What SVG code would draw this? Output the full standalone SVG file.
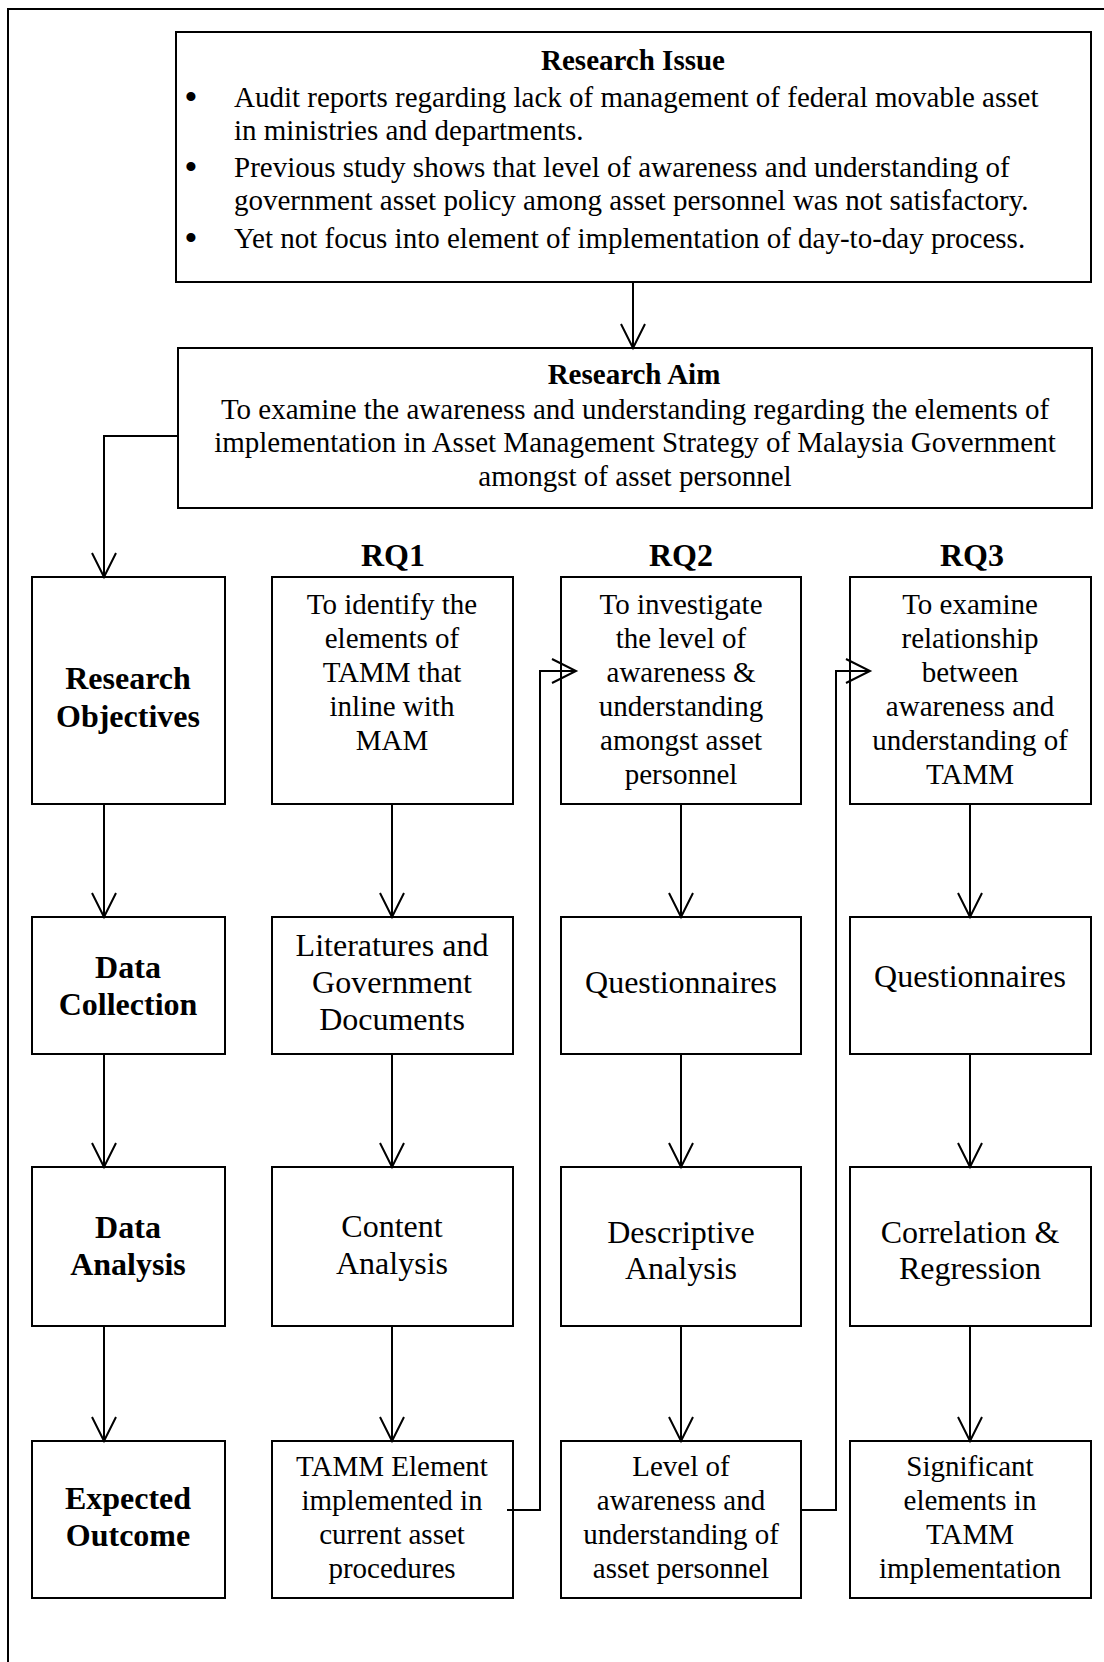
<svg xmlns="http://www.w3.org/2000/svg" width="1104" height="1662" viewBox="0 0 1104 1662">
<style>
.box{fill:#fff;stroke:#000;stroke-width:2}
.frame{fill:none;stroke:#000;stroke-width:2}
.t{font-family:"Liberation Serif","Times New Roman",serif;font-size:29px;fill:#000}
.c{text-anchor:middle}
.b{font-weight:bold;font-size:32px}
.big{font-size:32px}
.bul{font-size:38px}
.conn{fill:none;stroke:#000;stroke-width:2;marker-end:url(#arr)}
</style>
<defs>
<marker id="arr" markerUnits="userSpaceOnUse" viewBox="-26 -13 28 26" refX="0" refY="0" markerWidth="28" markerHeight="26" orient="auto" overflow="visible">
<path d="M-24,-12 L0,0 L-24,12" fill="none" stroke="#000" stroke-width="2"/>
</marker>
</defs>
<rect width="1104" height="1662" fill="#fff"/>
<rect class="frame" x="8" y="9" width="1120" height="1680"/>

<g id="issue">
<rect class="box" x="176" y="32" width="915" height="250"/>
<text class="t c" x="633" y="70" font-weight="bold">Research Issue</text>
<text class="t c bul" x="191" y="110">•</text>
<text class="t" x="234" y="107">Audit reports regarding lack of management of federal movable asset</text>
<text class="t" x="234" y="140">in ministries and departments.</text>
<text class="t c bul" x="191" y="180">•</text>
<text class="t" x="234" y="177">Previous study shows that level of awareness and understanding of</text>
<text class="t" x="234" y="210">government asset policy among asset personnel was not satisfactory.</text>
<text class="t c bul" x="191" y="251">•</text>
<text class="t" x="234" y="248">Yet not focus into element of implementation of day-to-day process.</text>
</g>

<g id="aim">
<rect class="box" x="178" y="348" width="914" height="160"/>
<text class="t c" x="634" y="384" font-weight="bold">Research Aim</text>
<text class="t c" x="635" y="419">To examine the awareness and understanding regarding the elements of</text>
<text class="t c" x="635" y="452">implementation in Asset Management Strategy of Malaysia Government</text>
<text class="t c" x="635" y="486">amongst of asset personnel</text>
</g>

<g id="rq-headers">
<text class="t c b" x="393" y="566">RQ1</text>
<text class="t c b" x="681" y="566">RQ2</text>
<text class="t c b" x="972" y="566">RQ3</text>
</g>

<g id="objectives">
<rect class="box" x="32" y="577" width="193" height="227"/>
<text class="t c b" x="128" y="689">Research</text>
<text class="t c b" x="128" y="727">Objectives</text>
</g>
<g id="rq1-obj">
<rect class="box" x="272" y="577" width="241" height="227"/>
<text class="t c" x="392" y="614">To identify the</text>
<text class="t c" x="392" y="648">elements of</text>
<text class="t c" x="392" y="682">TAMM that</text>
<text class="t c" x="392" y="716">inline with</text>
<text class="t c" x="392" y="750">MAM</text>
</g>
<g id="rq2-obj">
<rect class="box" x="561" y="577" width="240" height="227"/>
<text class="t c" x="681" y="614">To investigate</text>
<text class="t c" x="681" y="648">the level of</text>
<text class="t c" x="681" y="682">awareness &amp;</text>
<text class="t c" x="681" y="716">understanding</text>
<text class="t c" x="681" y="750">amongst asset</text>
<text class="t c" x="681" y="784">personnel</text>
</g>
<g id="rq3-obj">
<rect class="box" x="850" y="577" width="241" height="227"/>
<text class="t c" x="970" y="614">To examine</text>
<text class="t c" x="970" y="648">relationship</text>
<text class="t c" x="970" y="682">between</text>
<text class="t c" x="970" y="716">awareness and</text>
<text class="t c" x="970" y="750">understanding of</text>
<text class="t c" x="970" y="784">TAMM</text>
</g>

<g id="collection">
<rect class="box" x="32" y="917" width="193" height="137"/>
<text class="t c b" x="128" y="978">Data</text>
<text class="t c b" x="128" y="1015">Collection</text>
</g>
<g id="rq1-collection">
<rect class="box" x="272" y="917" width="241" height="137"/>
<text class="t c big" x="392" y="956">Literatures and</text>
<text class="t c big" x="392" y="993">Government</text>
<text class="t c big" x="392" y="1030">Documents</text>
</g>
<g id="rq2-collection">
<rect class="box" x="561" y="917" width="240" height="137"/>
<text class="t c big" x="681" y="993">Questionnaires</text>
</g>
<g id="rq3-collection">
<rect class="box" x="850" y="917" width="241" height="137"/>
<text class="t c big" x="970" y="987">Questionnaires</text>
</g>

<g id="analysis">
<rect class="box" x="32" y="1167" width="193" height="159"/>
<text class="t c b" x="128" y="1238">Data</text>
<text class="t c b" x="128" y="1275">Analysis</text>
</g>
<g id="rq1-analysis">
<rect class="box" x="272" y="1167" width="241" height="159"/>
<text class="t c big" x="392" y="1237">Content</text>
<text class="t c big" x="392" y="1274">Analysis</text>
</g>
<g id="rq2-analysis">
<rect class="box" x="561" y="1167" width="240" height="159"/>
<text class="t c big" x="681" y="1243">Descriptive</text>
<text class="t c big" x="681" y="1279">Analysis</text>
</g>
<g id="rq3-analysis">
<rect class="box" x="850" y="1167" width="241" height="159"/>
<text class="t c big" x="970" y="1243">Correlation &amp;</text>
<text class="t c big" x="970" y="1279">Regression</text>
</g>

<g id="outcome">
<rect class="box" x="32" y="1441" width="193" height="157"/>
<text class="t c b" x="128" y="1509">Expected</text>
<text class="t c b" x="128" y="1546">Outcome</text>
</g>
<g id="rq1-outcome">
<rect class="box" x="272" y="1441" width="241" height="157"/>
<text class="t c" x="392" y="1476">TAMM Element</text>
<text class="t c" x="392" y="1510">implemented in</text>
<text class="t c" x="392" y="1544">current asset</text>
<text class="t c" x="392" y="1578">procedures</text>
</g>
<g id="rq2-outcome">
<rect class="box" x="561" y="1441" width="240" height="157"/>
<text class="t c" x="681" y="1476">Level of</text>
<text class="t c" x="681" y="1510">awareness and</text>
<text class="t c" x="681" y="1544">understanding of</text>
<text class="t c" x="681" y="1578">asset personnel</text>
</g>
<g id="rq3-outcome">
<rect class="box" x="850" y="1441" width="241" height="157"/>
<text class="t c" x="970" y="1476">Significant</text>
<text class="t c" x="970" y="1510">elements in</text>
<text class="t c" x="970" y="1544">TAMM</text>
<text class="t c" x="970" y="1578">implementation</text>
</g>

<g id="connectors">
<path class="conn" d="M633,283 V348"/>
<path class="conn" d="M178,436 H104 V577"/>
<path class="conn" d="M104,805 V917"/>
<path class="conn" d="M104,1055 V1167"/>
<path class="conn" d="M104,1327 V1441"/>
<path class="conn" d="M392,805 V917"/>
<path class="conn" d="M392,1055 V1167"/>
<path class="conn" d="M392,1327 V1441"/>
<path class="conn" d="M681,805 V917"/>
<path class="conn" d="M681,1055 V1167"/>
<path class="conn" d="M681,1327 V1441"/>
<path class="conn" d="M970,805 V917"/>
<path class="conn" d="M970,1055 V1167"/>
<path class="conn" d="M970,1327 V1441"/>
<path class="conn" d="M507,1510 H540 V671 H576"/>
<path class="conn" d="M802,1510 H836 V671 H870"/>
</g>
</svg>
